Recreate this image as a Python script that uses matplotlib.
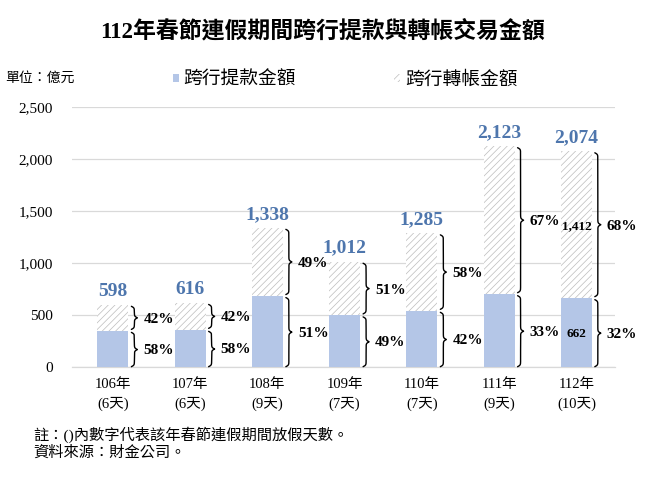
import numpy as np
import matplotlib
matplotlib.use("Agg")
import matplotlib.pyplot as plt
from matplotlib.patches import Patch

plt.rcParams['font.family'] = ['Liberation Serif', 'Noto Sans CJK TC']
plt.rcParams['hatch.linewidth'] = 0.5

# ---- data ----
years = ['106年', '107年', '108年', '109年', '110年', '111年', '112年']
days = ['(6天)', '(6天)', '(9天)', '(7天)', '(7天)', '(9天)', '(10天)']
totals = [598, 616, 1338, 1012, 1285, 2123, 2074]
withdraw = [347, 357, 682, 496, 540, 700, 662]
transfer = [251, 259, 656, 516, 745, 1423, 1412]
pct_withdraw = ['58%', '58%', '51%', '49%', '42%', '33%', '32%']
pct_transfer = ['42%', '42%', '49%', '51%', '58%', '67%', '68%']
yticks = [0, 500, 1000, 1500, 2000, 2500]
inner_labels = {6: ('662', '1,412')}

BLUE = '#b4c6e7'
HATCH = '#bcbcbc'
TOTAL_C = '#4e76ad'
GRID = '#d9d9d9'

W, H = 651, 478
fig = plt.figure(figsize=(W / 100, H / 100), dpi=100)
ax_l, ax_r, ax_b, ax_t = 72, 615, 367, 107
ax = fig.add_axes([ax_l / W, 1 - ax_b / H, (ax_r - ax_l) / W, (ax_b - ax_t) / H])

xmin, xmax = -0.53, 6.50
ymax = 2500
ax.set_xlim(xmin, xmax)
ax.set_ylim(0, ymax)
sx = (ax_r - ax_l) / (xmax - xmin)   # px per x unit
sy = (ax_b - ax_t) / ymax            # px per y unit

x = np.arange(len(years))
bw = 0.4
ax.bar(x, withdraw, width=bw, color=BLUE, linewidth=0, zorder=3, label='跨行提款金額')
ax.bar(x, transfer, width=bw, bottom=withdraw, color='white', edgecolor=HATCH,
       linewidth=0, hatch='/////', zorder=3, label='跨行轉帳金額')

# grid
ax.set_yticks(yticks)
ax.yaxis.grid(True, color=GRID, linewidth=0.9, zorder=0)
ax.set_axisbelow(True)
for s in ['top', 'right', 'left']:
    ax.spines[s].set_visible(False)
ax.spines['bottom'].set_color(GRID)
ax.spines['bottom'].set_linewidth(0.9)
ax.set_yticklabels([f'{v:,}' for v in yticks], fontsize=11)
ax.tick_params(axis='y', length=0, pad=14)
ax.set_xticks(x)
ax.set_xticklabels([f'{a}\n{b}' for a, b in zip(years, days)], fontsize=10.5)
ax.tick_params(axis='x', length=0, pad=8)
for lbl in ax.get_xticklabels():
    lbl.set_linespacing(1.5)


def brace(xd, y0, y1, w_px=6.0, k=1.3):
    h = (y1 - y0) * sy
    s = np.linspace(0, h / 2, 200)
    f = 1 / (1 + np.exp(-k * s)) + 1 / (1 + np.exp(-k * (s - h / 2))) - 0.5
    s_full = np.concatenate([s, h - s[::-1]])
    f_full = np.concatenate([f, f[::-1]])
    ax.plot(xd + f_full * w_px / sx, y0 + s_full / sy, color='black',
            linewidth=1.0, zorder=4, clip_on=False, solid_capstyle='round')


gap = 1.5 / sy
for i in range(len(years)):
    right = x[i] + bw / 2
    bx = right + 3 / sx
    brace(bx, 0 + 0.3 / sy, withdraw[i] - gap)
    brace(bx, withdraw[i] + gap, totals[i] - gap)
    tx = right + 15 / sx
    ax.text(tx, withdraw[i] / 2, pct_withdraw[i], fontsize=11, fontweight='bold',
            ha='left', va='center_baseline', zorder=5)
    ax.text(tx, withdraw[i] + transfer[i] / 2, pct_transfer[i], fontsize=11,
            fontweight='bold', ha='left', va='center_baseline', zorder=5)
    ax.annotate(f'{totals[i]:,}', (x[i], totals[i]), xytext=(0, 6.5),
                textcoords='offset points', ha='center', va='baseline',
                fontsize=14, fontweight='bold', color=TOTAL_C, zorder=5)

for i, (lw_lab, tr_lab) in inner_labels.items():
    ax.text(x[i], withdraw[i] / 2, lw_lab, fontsize=9.5, fontweight='bold',
            ha='center', va='center_baseline', zorder=5)
    ax.text(x[i], withdraw[i] + transfer[i] / 2, tr_lab, fontsize=9.5,
            fontweight='bold', ha='center', va='center_baseline', zorder=5)

# title, unit, legend, notes
fig.text(0.496, 1 - 31 / H, '112年春節連假期間跨行提款與轉帳交易金額',
         fontsize=16.5, fontweight='bold', ha='center', va='center')
fig.text(5 / W, 1 - 78 / H, '單位：億元', fontsize=10, ha='left', va='center')
handles = [Patch(facecolor=BLUE, linewidth=0),
           Patch(facecolor='white', edgecolor=HATCH, linewidth=0, hatch='/////')]
fig.legend(handles, ['跨行提款金額', '跨行轉帳金額'], loc='center',
           bbox_to_anchor=(345 / W, 1 - 80 / H), ncol=2, frameon=False,
           fontsize=13.5, handlelength=0.35, handleheight=0.35,
           handletextpad=0.25, columnspacing=5.2)
fig.text(33 / W, 1 - 435 / H, '註：()內數字代表該年春節連假期間放假天數。',
         fontsize=11, ha='left', va='center')
fig.text(33 / W, 1 - 453 / H, '資料來源：財金公司。',
         fontsize=11, ha='left', va='center')

fig.savefig('out.png', dpi=100)
